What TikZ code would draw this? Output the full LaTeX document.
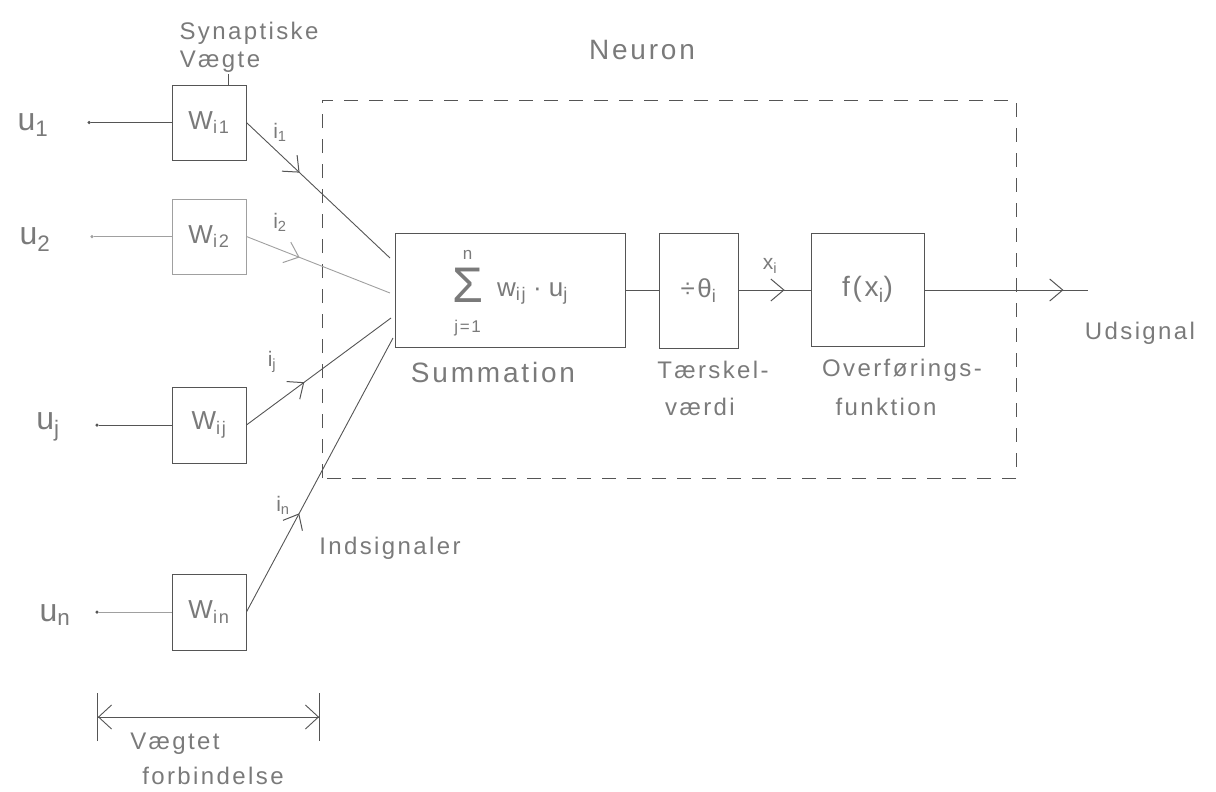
\documentclass[tikz,border=0pt]{standalone}
\usepackage{fontspec}
\usetikzlibrary{arrows.meta,decorations.markings}
\newfontfamily\hand[LetterSpace=10]{Liberation Sans}
\definecolor{pencil}{HTML}{555555}
\definecolor{ink}{HTML}{7A7A7A}
\definecolor{faint}{HTML}{A0A0A0}
\newcommand\hs[2]{#1\textsubscript{#2}}
\begin{document}
\begin{tikzpicture}[x=1pt,y=-1pt,
  box/.style={draw=pencil,line width=0.9pt,minimum width=74pt,minimum height=75pt,inner sep=0pt,text=ink,font=\hand\fontsize{26}{30}\selectfont},
  wire/.style={draw=pencil,line width=0.9pt},
  midarrow/.style={postaction={decorate},decoration={markings,mark=at position #1 with {\arrow{Straight Barb[length=13pt,width=22pt,line width=1pt]}}}},
  lbl/.style={text=ink,inner sep=0pt,font=\hand\fontsize{24}{28}\selectfont},
  biglbl/.style={lbl,font=\hand\fontsize{28}{32}\selectfont},
  ulbl/.style={lbl,font=\hand\fontsize{32}{36}\selectfont},
  smlbl/.style={lbl,font=\hand\fontsize{21}{24}\selectfont},
  dot/.style={circle,fill=pencil,inner sep=0pt,minimum size=3.5pt},
  neuron/.style={draw=pencil,line width=0.9pt,dash pattern=on 14pt off 11pt},
  procbox/.style={draw=pencil,line width=0.9pt,inner sep=0pt,text=ink,font=\hand\fontsize{26}{30}\selectfont},
]
\useasboundingbox (0,0) rectangle (1216,792);

% neuron boundary
\draw[neuron] (322,478) -- (322,100) -- (1016,100) -- (1016,478) -- cycle;
\node[biglbl] (neur) at (642,50) {Neuron};

% weight boxes
\node[box] (w1) at (209,122.5) {\hs{W}{i1}};
\node[box,draw=faint] (w2) at (209,236.5) {\hs{W}{i2}};
\node[box,minimum height=76pt] (wj) at (209,425) {\hs{W}{ij}};
\node[box,minimum height=76pt] (wn) at (209,612) {\hs{W}{in}};

% inputs
\node[ulbl] (u1) at (33,125) {\hs{u}{1}};
\node[ulbl] (u2) at (35,240) {\hs{u}{2}};
\node[ulbl] (uj) at (48,427) {\hs{u}{j}};
\node[ulbl] (un) at (55,615) {\hs{u}{n}};
\node[dot] (d1) at (89,122.5) {};
\node[dot,fill=faint] (d2) at (92,236.5) {};
\node[dot] (dj) at (97,425) {};
\node[dot] (dn) at (97,612) {};
\draw[wire] (d1) -- (w1.west);
\draw[wire,draw=faint] (d2) -- (w2.west);
\draw[wire] (dj) -- (wj.west);
\draw[wire,draw=faint] (dn) -- (wn.west);

% synaptic weights label
\node[lbl] (syn1) at (249,33) {Synaptiske};
\node[lbl] (syn2) at (220,62) {Vægte};
\draw[wire,line width=0.7pt] (w1.north -| 228,0) -- ++(0,-11);

% summation, threshold, transfer
\node[procbox,minimum width=230pt,minimum height=114pt] (sum) at (510,290)
  {\begin{tabular}{@{}c@{}}\fontsize{17}{17}\selectfont n\\[0pt]\fontsize{50}{50}\selectfont Σ\\[0pt]\fontsize{17}{17}\selectfont j=1\end{tabular}\hspace{14pt}\hs{w}{ij}\hspace{7pt}·\hspace{7pt}\hs{u}{j}};
\node[procbox,minimum width=79pt,minimum height=115pt] (thr) at (698.5,290.5) {÷θ\textsubscript{i}};
\node[procbox,minimum width=113pt,minimum height=113pt,font=\hand\fontsize{28}{32}\selectfont] (f) at (867.5,289.5) {f(x\textsubscript{i})};

\coordinate (e1) at (390,258);
\coordinate (e2) at (390,293);
\coordinate (ej) at (391,318);
\coordinate (en) at (393,338);

\draw[wire,midarrow=0.37] (w1.east) -- (e1);
\draw[wire,draw=faint,midarrow=0.37] (w2.east) -- (e2);
\draw[wire,midarrow=0.40] (wj.east) -- (ej);
\draw[wire,midarrow=0.36] (wn.east) -- (en);

\node[smlbl] (i1) at (280,132) {\hs{i}{1}};
\node[smlbl] (i2) at (280,222) {\hs{i}{2}};
\node[smlbl] (ij) at (272,362) {\hs{i}{j}};
\node[smlbl] (in) at (283,505) {\hs{i}{n}};
\node[lbl] (inds) at (390,548) {Indsignaler};

\draw[wire] (sum.east |- 0,290) -- (thr.west |- 0,290);
\draw[wire,midarrow=0.64] (thr.east |- 0,290) -- (f.west |- 0,290);
\node[smlbl] (xi) at (770,266) {x\textsubscript{i}};
\coordinate (out) at (1088,290);
\draw[wire,midarrow=0.85] (f.east |- 0,290) -- (out);

\node[biglbl] (summ) at (493,372) {Summation};
\node[lbl] (ter1) at (713,370) {Tærskel-};
\node[lbl] (ter2) at (700,407) {værdi};
\node[lbl] (ov1) at (902,370) {Overførings-};
\node[lbl] (ov2) at (886,407) {funktion};
\node[lbl] (uds) at (1140,333) {Udsignal};

% weighted connection span
\coordinate (sl) at (97,717);
\coordinate (sr) at (320,717);
\draw[wire,{Bar[width=48pt]Straight Barb[length=13pt,width=24pt,sep=0pt]}-{Straight Barb[length=13pt,width=24pt,sep=0pt]Bar[width=48pt]}] (sl) -- (sr);
\node[lbl] (vt1) at (175,744) {Vægtet};
\node[lbl] (vt2) at (213,776) {forbindelse};
\end{tikzpicture}
\end{document}
